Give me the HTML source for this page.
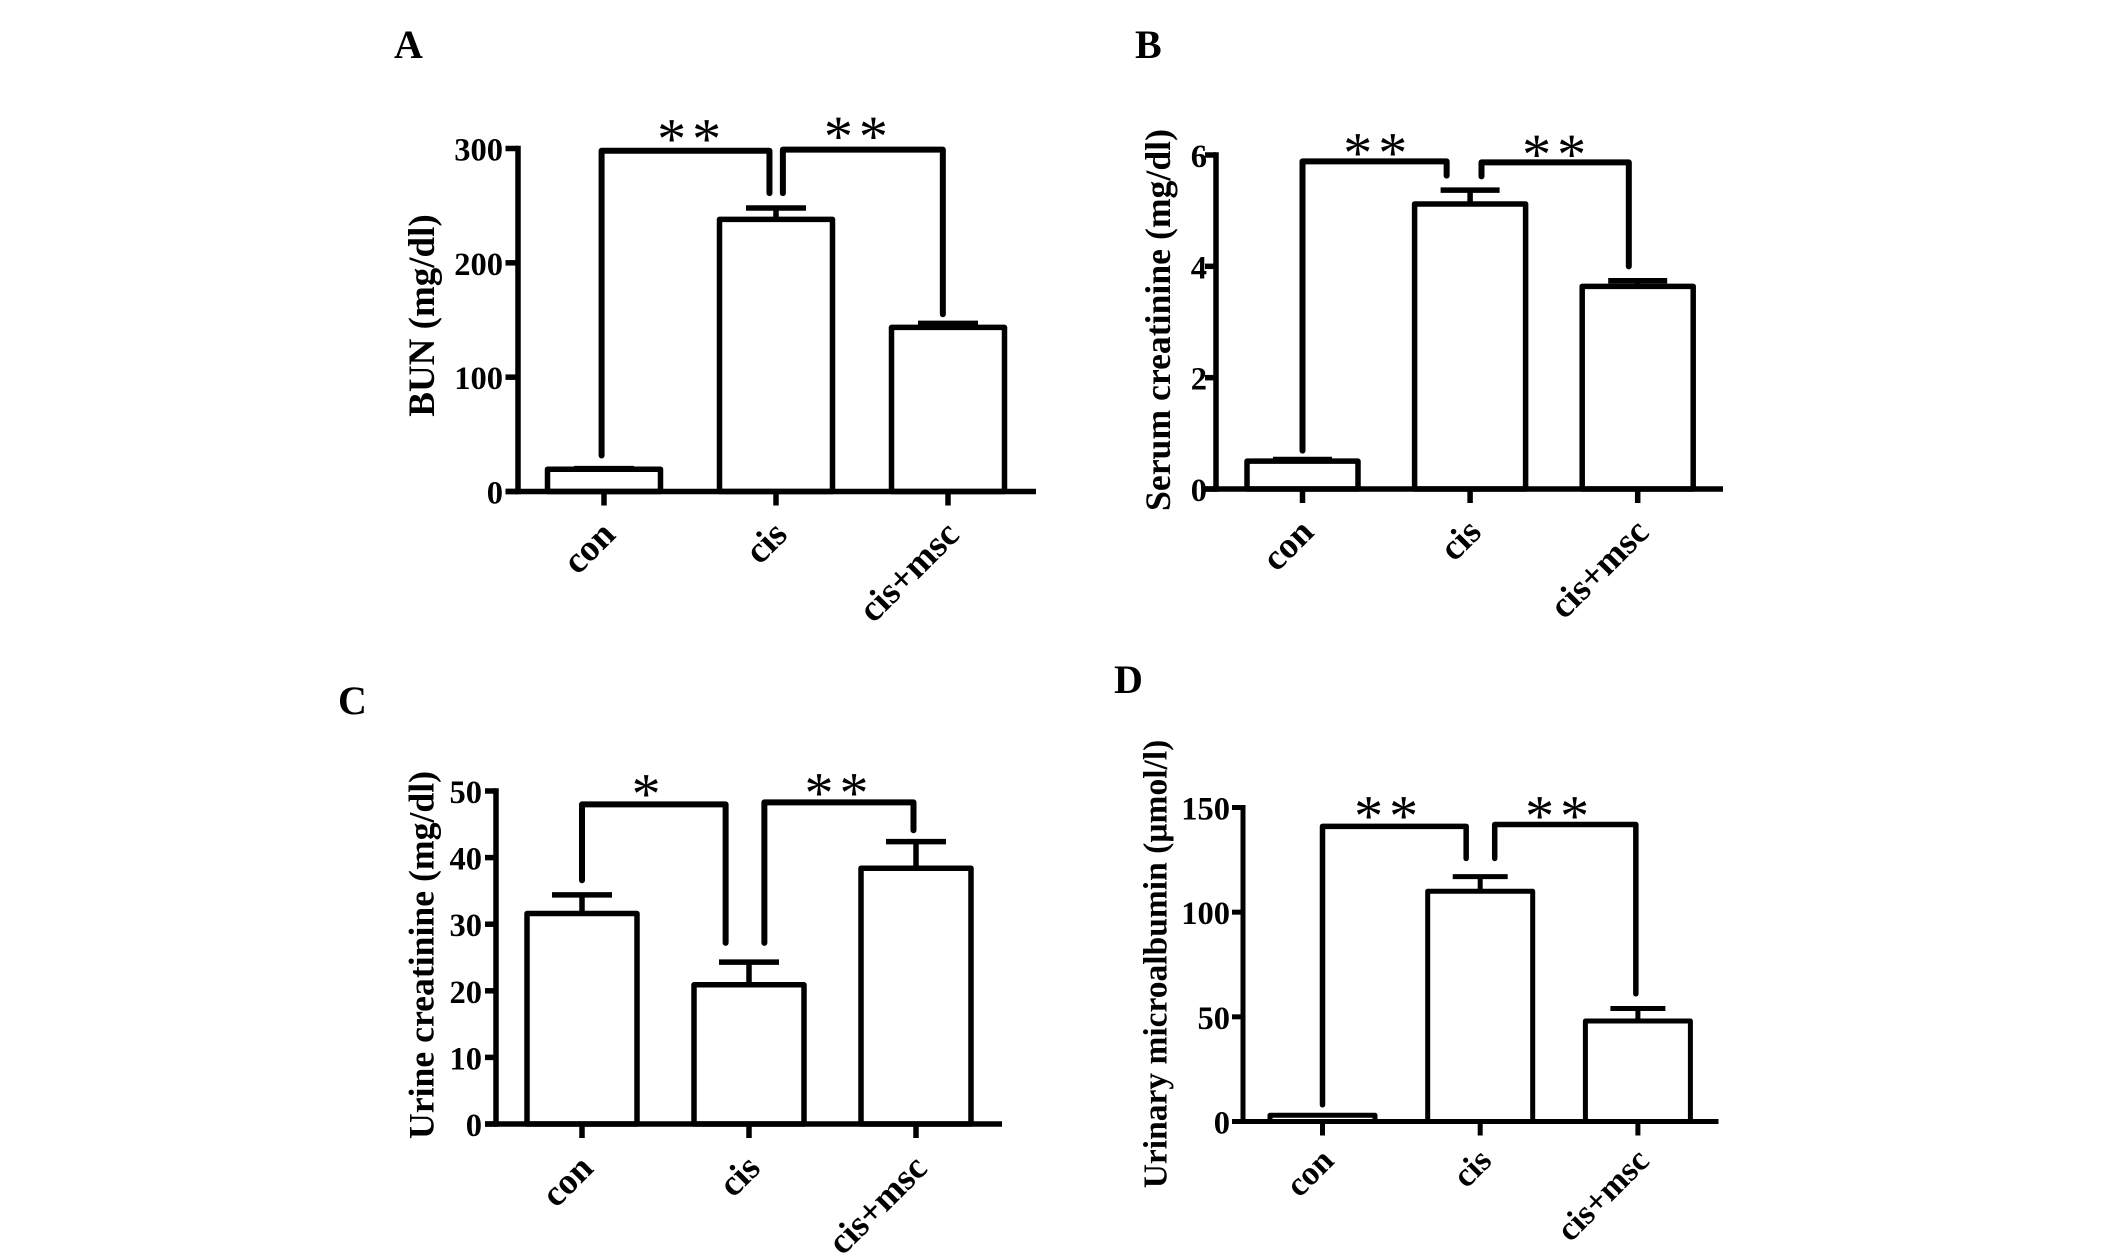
<!DOCTYPE html>
<html lang="en">
<head>
<meta charset="utf-8">
<title>Renal function bar charts</title>
<style>
html,body{margin:0;padding:0;background:#fff;}
svg{display:block;}
text{font-family:"Liberation Serif",serif;font-weight:bold;fill:#000;}
</style>
</head>
<body>
<svg id="figure" xmlns="http://www.w3.org/2000/svg" width="2126" height="1259" viewBox="0 0 2126 1259"></svg>
<script>
const categories = ['con', 'cis', 'cis+msc'];

const bunMeans = [19.5, 238, 143.5];
const bunErrors = [0.5, 10, 3.5];
const bunTicks = [0, 100, 200, 300];
const bunBracketLeft = [-0.014, 31.5, 298, 0.962, 261, 0.501, 315];
const bunBracketRight = [1.04, 261, 299, 1.97, 155, 1.47, 317];

const serumMeans = [0.5, 5.12, 3.64];
const serumErrors = [0.03, 0.25, 0.1];
const serumTicks = [0, 2, 4, 6];
const serumBracketLeft = [0, 0.69, 5.885, 0.86, 5.63, 0.44, 6.17];
const serumBracketRight = [1.068, 5.615, 5.867, 1.947, 4.0, 1.507, 6.14];

const urineMeans = [31.6, 20.9, 38.4];
const urineErrors = [2.8, 3.4, 4];
const urineTicks = [0, 10, 20, 30, 40, 50];
const urineBracketLeft = [0, 36.6, 48, 0.86, 27.2, 0.39, 50.7];
const urineBracketRight = [1.092, 27.2, 48.3, 1.985, 44.1, 1.53, 50.8];

const albuminMeans = [3, 110, 48];
const albuminErrors = [0, 7, 6];
const albuminTicks = [0, 50, 100, 150];
const albuminBracketLeft = [0, 8, 141, 0.911, 125.7, 0.41, 149.5];
const albuminBracketRight = [1.092, 125.7, 141.9, 1.987, 61, 1.494, 149.5];

const svgNS = 'http://www.w3.org/2000/svg';
const figure = document.getElementById('figure');

function makeNode(tag, attrs, parent) {
  const node = document.createElementNS(svgNS, tag);
  for (const key in attrs) node.setAttribute(key, attrs[key]);
  parent.appendChild(node);
  return node;
}

function drawPanel(p) {
  const group = makeNode('g', {}, figure);
  
  

  const yScale = v => p.y0 - (v - p.ticks[0]) * (p.y0 - p.yTop) / (p.ticks[p.ticks.length - 1] - p.ticks[0]);
  const xScale = c => p.c0 + c * p.spacing;
  const line = (x1, y1, x2, y2, width, parent) => makeNode('line', {x1, y1, x2, y2, stroke: '#000', 'stroke-width': width}, parent);

  const letter = makeNode('text', {x: p.letterX, y: p.letterY, 'font-size': 40}, group);
  letter.textContent = p.letter;
  
  

  const title = makeNode('text', {x: 0, y: 0, 'font-size': p.titleSize, 'text-anchor': 'middle', transform: 'translate(' + p.titleX + ',' + p.titleY + ') rotate(-90)'}, group);
  title.textContent = p.title;
  
  

  p.means.forEach((mean, i) => {
    const cx = xScale(i);
    const half = p.barWidth / 2;
    const top = yScale(mean);
    const barGroup = makeNode('g', {}, group);
    
    
    if (p.errors[i] > 0) {
      const errTop = yScale(mean + p.errors[i]);
      const stem = line(cx, top, cx, errTop, p.stroke, barGroup);
      
      
      const cap = line(cx - p.capWidth / 2, errTop, cx + p.capWidth / 2, errTop, p.stroke, barGroup);
      
      
    }
    const bar = makeNode('rect', {x: cx - half, y: top, width: p.barWidth, height: p.y0 - top, fill: '#fff', stroke: '#000', 'stroke-width': p.stroke, 'stroke-linejoin': 'round'}, barGroup);
    
    

    const tick = line(cx, p.y0, cx, p.y0 + 14, p.stroke, group);
    
    

    const ax = cx + 13;
    const ay = p.y0 + p.catDrop;
    const label = makeNode('text', {x: 0, y: 0, 'font-size': p.catSize, 'text-anchor': 'end', transform: 'translate(' + ax + ',' + ay + ') rotate(-45)'}, group);
    label.textContent = categories[i];
    
    
  });

  const yAxis = line(p.axisX, p.yTop - p.axisStroke / 2, p.axisX, p.y0 + p.axisStroke / 2, p.axisStroke, group);
  
  
  const xAxis = line(p.axisLeft, p.y0, p.axisRight, p.y0, p.axisStroke, group);
  
  

  p.ticks.forEach(v => {
    const y = yScale(v);
    const tick = line(p.axisLeft, y, p.axisX, y, p.axisStroke, group);
    
    
    const label = makeNode('text', {x: p.labelEnd, y: y + 12, 'font-size': p.tickSize, 'text-anchor': 'end'}, group);
    label.textContent = String(v);
    
    
  });

  p.brackets.forEach((b, i) => {
    const d = 'M' + xScale(b[0]) + ' ' + yScale(b[1]) + ' L' + xScale(b[0]) + ' ' + yScale(b[2]) + ' L' + xScale(b[3]) + ' ' + yScale(b[2]) + ' L' + xScale(b[3]) + ' ' + yScale(b[4]);
    const bracket = makeNode('path', {d, fill: 'none', stroke: '#000', 'stroke-width': p.stroke + 0.5, 'stroke-linejoin': 'round', 'stroke-linecap': 'round'}, group);
    
    
    const stars = makeNode('text', {x: xScale(b[5]) + 2, y: yScale(b[6]) + 27, 'font-size': 58, 'text-anchor': 'middle', 'letter-spacing': 6, style: 'font-weight:normal'}, group);
    stars.textContent = p.stars[i];
    
    
  });
}

drawPanel({
  letter: 'A', letterX: 394, letterY: 58, title: 'BUN (mg/dl)', titleSize: 37, titleX: 434, titleY: 315.5,
  means: bunMeans, errors: bunErrors, ticks: bunTicks, brackets: [bunBracketLeft, bunBracketRight], stars: ['**', '**'],
  axisX: 518, axisLeft: 505.5, axisRight: 1036, y0: 491.5, yTop: 148.5, c0: 604, spacing: 172,
  barWidth: 113, capWidth: 60, stroke: 5.5, axisStroke: 5.5, labelEnd: 503, tickSize: 32.5, catSize: 37, catDrop: 45
});

drawPanel({
  letter: 'B', letterX: 1135, letterY: 58, title: 'Serum creatinine (mg/dl)', titleSize: 35.7, titleX: 1170, titleY: 320,
  means: serumMeans, errors: serumErrors, ticks: serumTicks, brackets: [serumBracketLeft, serumBracketRight], stars: ['**', '**'],
  axisX: 1216, axisLeft: 1205, axisRight: 1723, y0: 489, yTop: 155, c0: 1302.5, spacing: 167.6,
  barWidth: 111, capWidth: 59, stroke: 5.5, axisStroke: 5.5, labelEnd: 1207, tickSize: 32.5, catSize: 36.5, catDrop: 45
});

drawPanel({
  letter: 'C', letterX: 338, letterY: 714, title: 'Urine creatinine (mg/dl)', titleSize: 35.7, titleX: 433.5, titleY: 955,
  means: urineMeans, errors: urineErrors, ticks: urineTicks, brackets: [urineBracketLeft, urineBracketRight], stars: ['*', '**'],
  axisX: 496, axisLeft: 485, axisRight: 1002, y0: 1124, yTop: 791, c0: 582, spacing: 167,
  barWidth: 110, capWidth: 60, stroke: 5.5, axisStroke: 5.5, labelEnd: 482, tickSize: 32.5, catSize: 36.5, catDrop: 46
});

drawPanel({
  letter: 'D', letterX: 1114, letterY: 693, title: 'Urinary microalbumin (\u00b5mol/l)', titleSize: 33.5, titleX: 1166.5, titleY: 964,
  means: albuminMeans, errors: albuminErrors, ticks: albuminTicks, brackets: [albuminBracketLeft, albuminBracketRight], stars: ['**', '**'],
  axisX: 1243, axisLeft: 1232, axisRight: 1718.5, y0: 1121.5, yTop: 807.5, c0: 1322.5, spacing: 157.7,
  barWidth: 105, capWidth: 55, stroke: 5, axisStroke: 5, labelEnd: 1230, tickSize: 32.5, catSize: 34, catDrop: 41
});
</script>
</body>
</html>
